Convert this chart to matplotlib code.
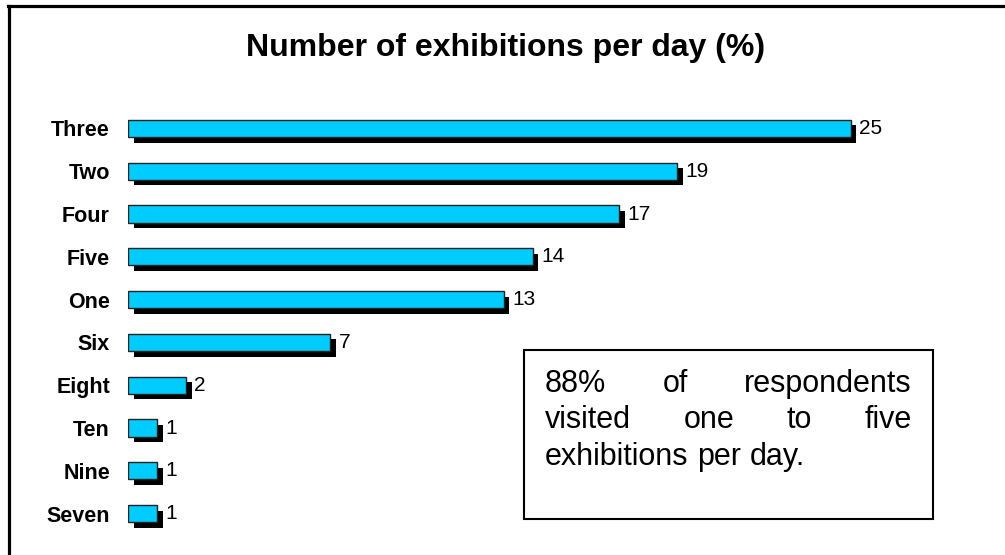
import matplotlib
matplotlib.use("Agg")
import matplotlib.pyplot as plt
from matplotlib.patches import Rectangle
from matplotlib.lines import Line2D

# data
categories = ["Three", "Two", "Four", "Five", "One", "Six", "Eight", "Ten", "Nine", "Seven"]
values = [25, 19, 17, 14, 13, 7, 2, 1, 1, 1]
title = "Number of exhibitions per day (%)"
note_lines = [["88%", "of", "respondents"],
              ["visited", "one", "to", "five"],
              ["exhibitions", "per", "day."]]

plt.rcParams["font.family"] = ["Liberation Sans", "DejaVu Sans"]

W, H = 1005, 555
fig = plt.figure(figsize=(W / 100, H / 100), dpi=100)


def fx(px):
    return px / W


def fy(py):
    return 1 - py / H


# bars with drop shadow
ax = fig.add_axes([fx(128), fy(535), fx(995) - fx(128), fy(107) - fy(535)])
pos = list(range(len(categories)))
ax.barh([p + 0.13 for p in pos], values, left=0.2, height=0.4, color="black", zorder=1)
ax.barh(pos, values, height=0.4, color="#00CCFF", edgecolor="#222222", linewidth=1, zorder=2)
for p, v in zip(pos, values):
    ax.annotate(str(v), (v + 0.2, p), xytext=(2, 0), textcoords="offset points",
                va="center", ha="left", fontsize=15)

ax.set_xlim(0, 30)
ax.set_ylim(len(categories) - 0.5, -0.5)
ax.set_yticks(pos, categories, fontweight="bold", fontsize=15.5)
ax.tick_params(axis="y", length=0, pad=13)
ax.set_xticks([])
for s in ax.spines.values():
    s.set_visible(False)

fig.text(fx(506), fy(48), title, ha="center", va="center", fontsize=23, fontweight="bold")

# frame (top and left only)
fig.add_artist(Line2D([fx(9), fx(9)], [fy(555), fy(6)], color="black", lw=2.3))
fig.add_artist(Line2D([fx(8), fx(1004)], [fy(6), fy(6)], color="black", lw=2.3))

# note box
fig.add_artist(Rectangle((fx(524), fy(519)), fx(933) - fx(524), fy(350) - fy(519),
                         transform=fig.transFigure, fill=False, edgecolor="black", lw=1.5))

# justified note text
renderer = fig.canvas.get_renderer()
left_px, right_px = 545, 912
baselines = [392, 428, 465]
for i, words in enumerate(note_lines):
    texts = [fig.text(0, fy(baselines[i]), w, fontsize=22, va="baseline") for w in words]
    widths = [t.get_window_extent(renderer).width for t in texts]
    last = i == len(note_lines) - 1
    if last:
        space = fig.text(0, 0, "a b", fontsize=22).get_window_extent(renderer).width - \
            fig.text(0, 0, "ab", fontsize=22).get_window_extent(renderer).width
        fig.texts = fig.texts[:-2]
        gap = space
    else:
        gap = (right_px - left_px - sum(widths)) / (len(words) - 1)
    x = left_px
    for t, w in zip(texts, widths):
        t.set_x(fx(x))
        x += w + gap

fig.savefig("out.png", dpi=100)
